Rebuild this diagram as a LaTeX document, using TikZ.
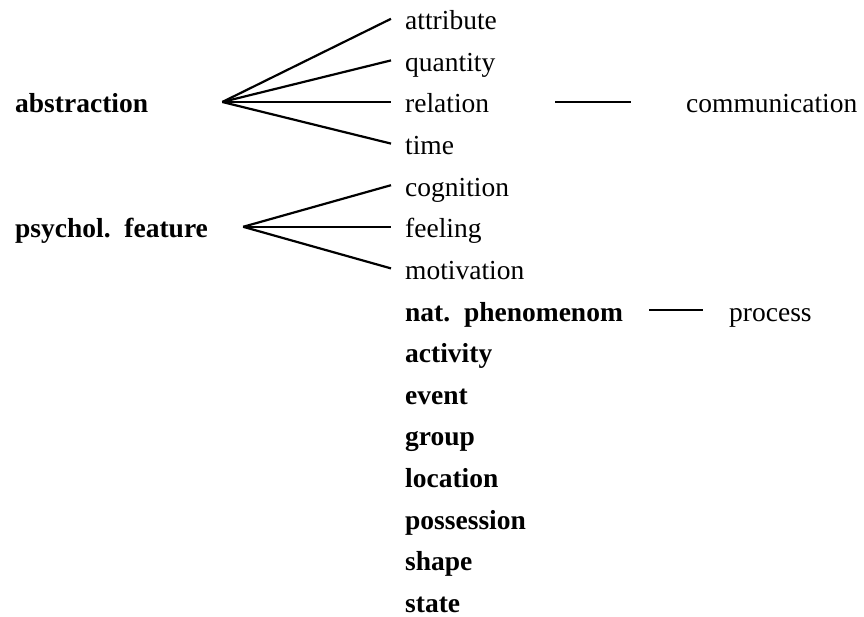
\documentclass[tikz,border=0pt]{standalone}
\usepackage{fontspec}
\setmainfont{Liberation Serif}
\begin{document}
\begin{tikzpicture}[x=1pt,y=-1pt,
  lbl/.style={anchor=base west, inner sep=0pt, text height=22pt, text depth=0pt,
              font=\fontsize{27.5}{33}\selectfont},
  bold/.style={lbl, font=\fontsize{27.5}{33}\selectfont\bfseries},
  child/.style={lbl, inner xsep=14pt},
  boldchild/.style={bold, inner xsep=14pt},
  link/.style={line width=2.2pt, line cap=butt}]
\useasboundingbox (0,0) rectangle (864,617);

% top-level categories
\node[bold] (abs) at (15,113) {abstraction};
\node[bold] (psy) at (15,237.8) {psychol.\hspace{0.5em}feature};

% hyponyms, one per row
\node[child] (attr) at (391,29.8)  {attribute};
\node[child] (quan) at (391,71.4)  {quantity};
\node[child] (rel)  at (391,113.0) {relation};
\node[child] (time) at (391,154.6) {time};
\node[child] (cog)  at (391,196.2) {cognition};
\node[child] (feel) at (391,237.8) {feeling};
\node[child] (mot)  at (391,279.4) {motivation};
\node[boldchild] (nat)  at (391,321.0) {nat.\hspace{0.5em}phenomenom};
\node[boldchild] (act)  at (391,362.6) {activity};
\node[boldchild] (evt)  at (391,404.2) {event};
\node[boldchild] (grp)  at (391,445.8) {group};
\node[boldchild] (loc)  at (391,487.4) {location};
\node[boldchild] (pos)  at (391,529.0) {possession};
\node[boldchild] (shp)  at (391,570.6) {shape};
\node[boldchild] (sta)  at (391,612.2) {state};

% further links
\node[lbl] (com)  at (686,113.0) {communication};
\node[lbl] (proc) at (729,321.0) {process};

% fan roots
\coordinate (absroot) at ([xshift=74pt]abs.east);
\coordinate (psyroot) at ([xshift=35pt]psy.east);

\foreach \c in {attr,quan,rel,time}
  \draw[link] (absroot) -- (\c.west);
\foreach \c in {cog,feel,mot}
  \draw[link] (psyroot) -- (\c.west);

\draw[link] ([xshift=52pt]rel.east) -- ([xshift=-55pt]com.west);
\draw[link] ([xshift=12pt]nat.east) -- ([xshift=-26pt]proc.west);
\end{tikzpicture}
\end{document}
